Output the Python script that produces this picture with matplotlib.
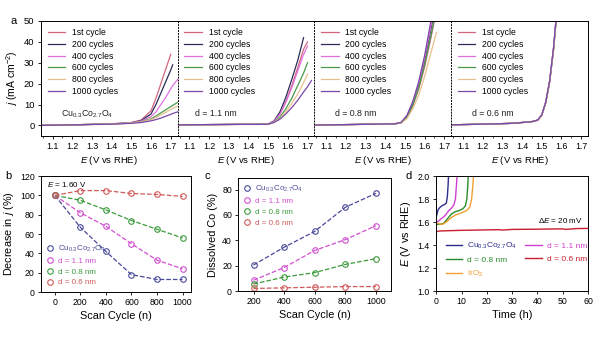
import numpy as np
import matplotlib
matplotlib.use("Agg")
import matplotlib.pyplot as plt

plt.rcParams['font.family'] = ['Liberation Sans', 'DejaVu Sans']
plt.rcParams['mathtext.fontset'] = 'custom'
plt.rcParams['mathtext.rm'] = 'Liberation Sans'
plt.rcParams['mathtext.it'] = 'Liberation Sans:italic'
plt.rcParams['axes.linewidth'] = 0.7
plt.rcParams['xtick.major.width'] = 0.6
plt.rcParams['ytick.major.width'] = 0.6
plt.rcParams['xtick.major.size'] = 2.5
plt.rcParams['ytick.major.size'] = 2.5

nan = np.nan

# ---- panel a: LSV curves after cycling ----
cycle_labels = ['1st cycle', '200 cycles', '400 cycles', '600 cycles', '800 cycles', '1000 cycles']
cycle_colors = ['#d0667e', '#2b2b58', '#e070e0', '#4a9a4a', '#e8c090', '#7a48a8']
sample_names = [r'Cu$_{0.3}$Co$_{2.7}$O$_4$', 'd = 1.1 nm', 'd = 0.8 nm', 'd = 0.6 nm']

E_cu = [1.04, 1.20, 1.35, 1.45, 1.50, 1.55, 1.60, 1.625, 1.65, 1.675, 1.70, 1.71, 1.735]
j_cu = [
    [0, 0.3, 0.6, 1.0, 1.4, 2.6, 7.0, 13.0, 20.0, 27.0, 34.0, nan, nan],
    [0, 0.3, 0.6, 1.0, 1.3, 2.3, 5.5, 10.0, 15.5, 21.0, 26.5, 29.0, nan],
    [0, 0.3, 0.6, 1.0, 1.3, 2.1, 4.2, 6.5, 10.0, 13.5, 17.5, 19.0, 22.0],
    [0, 0.3, 0.6, 0.9, 1.2, 1.8, 3.2, 4.5, 6.0, 7.5, 9.0, 9.6, 11.0],
    [0, 0.3, 0.6, 0.9, 1.2, 1.7, 2.8, 3.8, 5.0, 6.3, 7.6, 8.2, 9.3],
    [0, 0.3, 0.5, 0.8, 1.0, 1.4, 2.2, 2.8, 3.5, 4.4, 5.3, 5.7, 6.5],
]

E_11 = [1.04, 1.20, 1.35, 1.45, 1.50, 1.53, 1.56, 1.59, 1.62, 1.65, 1.68, 1.70, 1.72]
j_11 = [
    [0.3, 0.4, 0.5, 0.5, 0.6, 2.0, 5.5, 11.5, 19.0, 27.5, 36.5, 40.0, nan],
    [0.3, 0.4, 0.5, 0.5, 0.6, 2.2, 6.5, 13.5, 22.0, 31.0, 42.0, nan, nan],
    [0.3, 0.4, 0.5, 0.5, 0.6, 2.0, 5.5, 11.0, 18.0, 26.0, 34.0, 38.0, nan],
    [0.3, 0.4, 0.5, 0.5, 0.6, 1.6, 4.0, 8.0, 13.0, 19.0, 25.0, 30.0, nan],
    [0.3, 0.4, 0.5, 0.5, 0.6, 1.5, 3.3, 6.5, 10.5, 15.0, 20.5, 24.5, nan],
    [0.3, 0.4, 0.5, 0.5, 0.6, 1.4, 3.0, 5.5, 8.5, 12.0, 16.0, 18.5, 21.5],
]

E_08 = [1.04, 1.20, 1.35, 1.45, 1.48, 1.51, 1.54, 1.57, 1.60, 1.63, 1.66]
j_08 = [
    [0.2, 0.4, 0.6, 0.8, 1.2, 3.8, 9.5, 17.5, 28.0, 41.0, 55.0],
    [0.2, 0.4, 0.6, 0.8, 1.3, 4.3, 10.5, 19.5, 31.0, 45.0, 60.0],
    [0.2, 0.4, 0.6, 0.8, 1.3, 4.5, 11.0, 20.0, 32.0, 46.5, 62.0],
    [0.2, 0.4, 0.6, 0.8, 1.2, 3.9, 9.7, 18.0, 29.0, 42.0, 56.0],
    [0.2, 0.4, 0.6, 0.8, 1.1, 3.2, 8.0, 14.5, 23.5, 34.0, 44.5],
    [0.2, 0.4, 0.6, 0.8, 1.4, 4.8, 11.5, 21.0, 33.5, 49.0, 64.0],
]

E_06 = [1.04, 1.20, 1.35, 1.45, 1.48, 1.50, 1.52, 1.54, 1.56, 1.58]
j_06 = [
    [0.3, 0.6, 1.0, 1.8, 2.5, 4.8, 10.6, 20.5, 36.0, 57.0],
    [0.3, 0.6, 1.0, 1.8, 2.6, 5.0, 11.0, 21.0, 37.0, 58.0],
    [0.3, 0.6, 1.0, 1.8, 2.6, 5.1, 11.2, 21.5, 37.5, 59.0],
    [0.3, 0.6, 1.0, 1.8, 2.5, 4.9, 10.8, 20.8, 36.5, 57.5],
    [0.3, 0.6, 1.0, 1.8, 2.5, 4.8, 10.7, 20.6, 36.2, 57.2],
    [0.3, 0.6, 1.0, 1.8, 2.6, 5.0, 11.0, 21.2, 37.2, 58.5],
]

lsv_E = [E_cu, E_11, E_08, E_06]
lsv_j = [j_cu, j_11, j_08, j_06]

# ---- panels b, c ----
series_names = [r'Cu$_{0.3}$Co$_{2.7}$O$_4$', 'd = 1.1 nm', 'd = 0.8 nm', 'd = 0.6 nm']
series_colors = ['#4a4a9a', '#d050d0', '#3c9a3c', '#d05a5a']

cycles_b = [0, 200, 400, 600, 800, 1000]
decrease_j = [
    [100, 67, 42, 18, 13, 13],
    [100, 82, 68, 50, 33, 24],
    [100, 95, 85, 74, 65, 56],
    [100, 105, 105, 102, 101, 99],
]

cycles_c = [200, 400, 600, 800, 1000]
dissolved_co = [
    [20.5, 34.5, 47, 66, 77],
    [8.5, 18.5, 32, 40.5, 51.5],
    [5.5, 11, 14.5, 21, 25.5],
    [2, 2.5, 3, 3.5, 3.5],
]

# ---- panel d: chronopotentiometry ----
d_names = [r'Cu$_{0.3}$Co$_{2.7}$O$_4$', 'd = 0.8 nm', r'IrO$_2$', 'd = 1.1 nm', 'd = 0.6 nm']
d_colors = ['#2d2d90', '#2a8a2a', '#f0a030', '#d040d0', '#c81e2e']
t_cu = [0, 0.3, 0.8, 1.6, 2.5, 3.5, 4.0, 4.4, 4.7, 4.9]
E_t_cu = [1.64, 1.67, 1.71, 1.73, 1.745, 1.755, 1.765, 1.82, 1.92, 2.02]
t_08 = [0, 1.5, 3, 4.5, 6, 7.5, 9, 10.5, 11.5, 12.1, 12.5, 12.7]
E_t_08 = [1.58, 1.58, 1.59, 1.63, 1.67, 1.69, 1.70, 1.715, 1.74, 1.80, 1.92, 2.02]
t_ir = [0, 1, 2.5, 4, 6, 8, 10, 12, 13.3, 14.0, 14.5, 14.8]
E_t_ir = [1.60, 1.585, 1.58, 1.60, 1.64, 1.665, 1.68, 1.70, 1.73, 1.80, 1.92, 2.02]
t_11 = [0, 1, 2, 3, 4, 5, 6, 7, 7.6, 8.0, 8.3]
E_t_11 = [1.60, 1.61, 1.63, 1.645, 1.67, 1.70, 1.72, 1.75, 1.80, 1.92, 2.02]
t_06 = [0, 1, 5, 10, 15, 20, 25, 26, 30, 40, 50, 51, 55, 60]
E_t_06 = [1.515, 1.522, 1.525, 1.528, 1.53, 1.532, 1.534, 1.530, 1.536, 1.538, 1.541, 1.536, 1.543, 1.545]
d_t = [t_cu, t_08, t_ir, t_11, t_06]
d_E = [E_t_cu, E_t_08, E_t_ir, E_t_11, E_t_06]

fig = plt.figure(figsize=(6, 3.38), dpi=100)

# panel a: four joined subplots sharing the current axis
a_left, a_right, a_bottom, a_top = 0.068, 0.98, 0.598, 0.938
a_w = (a_right - a_left) / 4
for k in range(4):
    ax = fig.add_axes([a_left + k * a_w, a_bottom, a_w, a_top - a_bottom])
    for c in range(6):
        ax.plot(lsv_E[k], lsv_j[k][c], color=cycle_colors[c], lw=0.9, label=cycle_labels[c])
    ax.set_xlim(1.04, 1.735)
    ax.set_ylim(-5, 50)
    ax.set_xticks([1.1, 1.2, 1.3, 1.4, 1.5, 1.6, 1.7])
    ax.set_xticks(np.arange(1.05, 1.74, 0.05), minor=True)
    ax.tick_params(axis='x', labelsize=6.3, pad=2)
    ax.tick_params(axis='x', which='minor', length=1.5, width=0.5)
    ax.set_xlabel(r'$E$ (V vs RHE)', fontsize=6.8, labelpad=2)
    if k == 0:
        ax.set_yticks([0, 10, 20, 30, 40, 50])
        ax.tick_params(axis='y', labelsize=6.8, pad=2)
        ax.set_ylabel(r'$j$ (mA cm$^{-2}$)', fontsize=7.5, labelpad=3)
    else:
        ax.tick_params(axis='y', left=False, labelleft=False)
        ax.spines['left'].set_linestyle((0, (1, 2)))
    if k < 3:
        ax.spines['right'].set_linestyle((0, (1, 2)))
    ax.text(1.145 if k != 1 else 1.13, 5.5, sample_names[k], fontsize=6.3, color='#222222', va='center')
    ax.legend(loc='upper left', bbox_to_anchor=(0.0, 1.0), frameon=False, fontsize=6.2,
              handlelength=2.0, labelspacing=0.33, borderaxespad=0.4, handletextpad=0.8)

fig.text(0.018, 0.938, 'a', fontsize=8, va='center')

# panel b: decrease in current density
axb = fig.add_axes([0.068, 0.136, 0.25, 0.343])
for s in range(4):
    axb.plot(cycles_b, decrease_j[s], ls='--', color=series_colors[s], lw=0.9,
             marker='o', mfc='none', mec=series_colors[s], ms=4, mew=0.8, label=series_names[s])
axb.set_xlim(-110, 1065)
axb.set_ylim(0, 120)
axb.set_xticks([0, 200, 400, 600, 800, 1000])
axb.set_yticks([0, 20, 40, 60, 80, 100, 120])
axb.tick_params(labelsize=6.3, pad=2)
axb.set_xlabel('Scan Cycle (n)', fontsize=7.8, labelpad=3)
axb.set_ylabel(r'Decrease in $j$ (%)', fontsize=7.8, labelpad=3)
axb.text(0.04, 0.93, r'$E$ = 1.60 V', transform=axb.transAxes, fontsize=5.8, va='center')
leg = axb.legend(loc='lower left', frameon=False, fontsize=5.8, handlelength=0.8,
                 labelspacing=0.4, borderaxespad=0.3, handletextpad=0.6)
for t, c in zip(leg.get_texts(), series_colors):
    t.set_color(c)
for h in leg.legend_handles:
    h.set_linestyle('none')
fig.text(0.008, 0.48, 'b', fontsize=8, va='center')

# panel c: dissolved cobalt
axc = fig.add_axes([0.397, 0.139, 0.255, 0.334])
for s in range(4):
    axc.plot(cycles_c, dissolved_co[s], ls='--', color=series_colors[s], lw=0.9,
             marker='o', mfc='none', mec=series_colors[s], ms=4, mew=0.8, label=series_names[s])
axc.set_xlim(100, 1100)
axc.set_ylim(0, 89)
axc.set_xticks([200, 400, 600, 800, 1000])
axc.set_yticks([0, 20, 40, 60, 80])
axc.tick_params(labelsize=6.3, pad=2)
axc.set_xlabel('Scan Cycle (n)', fontsize=7.8, labelpad=3)
axc.set_ylabel('Dissolved Co (%)', fontsize=7.8, labelpad=3)
leg = axc.legend(loc='upper left', frameon=False, fontsize=5.8, handlelength=0.8,
                 labelspacing=0.4, borderaxespad=0.3, handletextpad=0.6)
for t, c in zip(leg.get_texts(), series_colors):
    t.set_color(c)
for h in leg.legend_handles:
    h.set_linestyle('none')
fig.text(0.34, 0.48, 'c', fontsize=8, va='center')

# panel d: potential vs time
axd = fig.add_axes([0.727, 0.139, 0.253, 0.34])
for s in range(5):
    axd.plot(d_t[s], d_E[s], color=d_colors[s], lw=1.0, label=d_names[s])
axd.set_xlim(0, 60)
axd.set_ylim(1.0, 2.0)
axd.set_xticks([0, 10, 20, 30, 40, 50, 60])
axd.set_yticks([1.0, 1.2, 1.4, 1.6, 1.8, 2.0])
axd.tick_params(labelsize=6.3, pad=2)
axd.set_xlabel('Time (h)', fontsize=7.8, labelpad=3)
axd.set_ylabel(r'$E$ (V vs RHE)', fontsize=7.8, labelpad=3)
axd.text(58, 1.61, r'$\Delta E$ = 20 mV', fontsize=5.8, ha='right', va='center')
leg = axd.legend(loc='upper left', bbox_to_anchor=(0.03, 0.48), ncol=2, frameon=False,
                 fontsize=6.0, handlelength=2.0, labelspacing=0.6, columnspacing=0.9,
                 handletextpad=0.6, borderaxespad=0.2)
for t, c in zip(leg.get_texts(), d_colors):
    t.set_color(c)
fig.text(0.675, 0.48, 'd', fontsize=8, va='center')

fig.savefig('out.png', dpi=100)
